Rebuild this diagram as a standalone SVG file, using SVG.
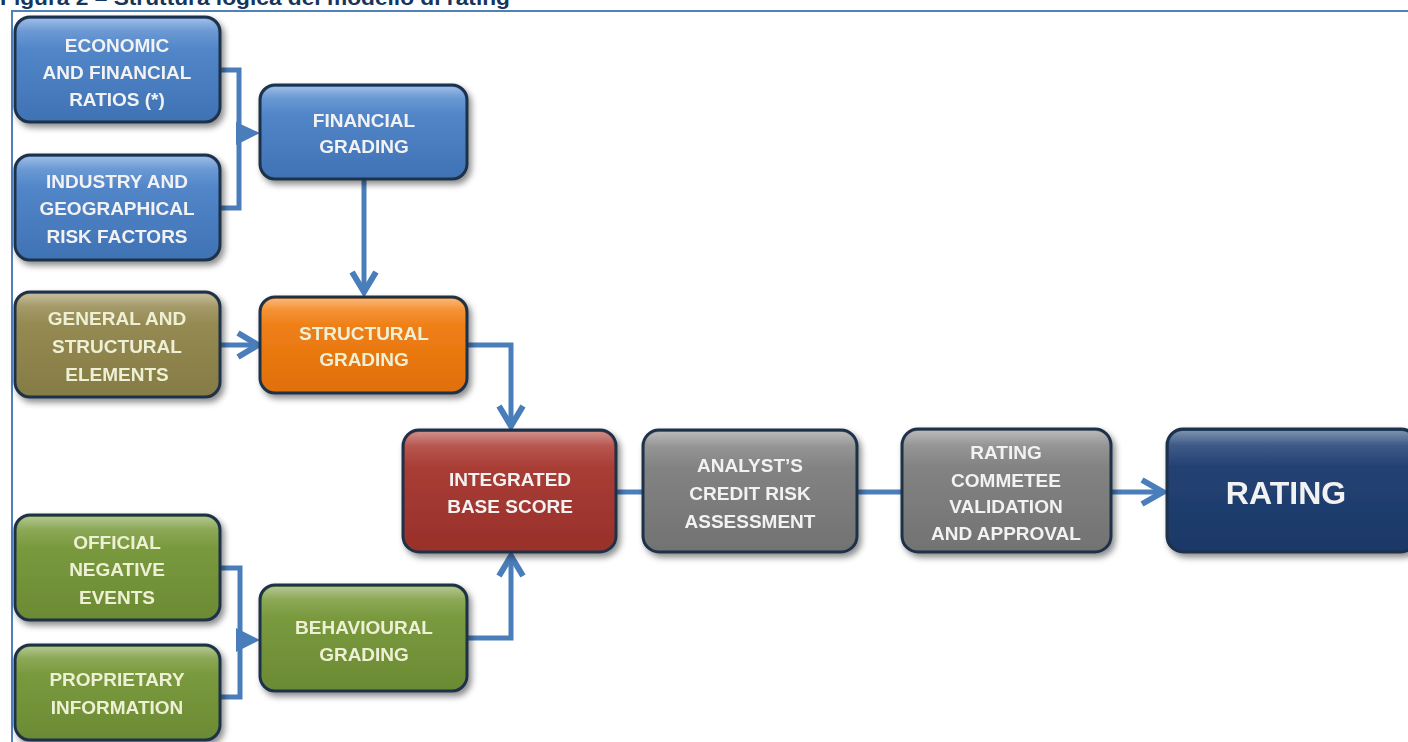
<svg xmlns="http://www.w3.org/2000/svg" width="1408" height="742" viewBox="0 0 1408 742">
<defs>
<style>
.t{font-family:"Liberation Sans",Arial,sans-serif;font-weight:bold;font-size:19px;text-anchor:middle;fill:#f2f2f2}
.tg{fill:#eef0d6}
.box{stroke:#1e3048;stroke-width:3}
.hl{fill:url(#hl)}
.c{fill:none;stroke:#4a7ebb;stroke-width:5;stroke-linejoin:miter}
.ah{fill:none;stroke:#4a7ebb;stroke-width:6;stroke-linecap:butt;stroke-linejoin:miter}
.tri{fill:#4a7ebb}
</style>
<filter id="sh" x="-10%" y="-10%" width="125%" height="130%">
<feDropShadow dx="3" dy="4" stdDeviation="3" flood-color="#000" flood-opacity="0.45"/>
</filter>
<linearGradient id="hl" x1="0" y1="0" x2="0" y2="1">
<stop offset="0" stop-color="#fff" stop-opacity="0.4"/>
<stop offset="0.12" stop-color="#fff" stop-opacity="0.12"/>
<stop offset="0.3" stop-color="#fff" stop-opacity="0"/>
</linearGradient>
<linearGradient id="gBlue" x1="0" y1="0" x2="0" y2="1"><stop offset="0" stop-color="#5a8fd2"/><stop offset="1" stop-color="#3f72b4"/></linearGradient>
<linearGradient id="gOlive" x1="0" y1="0" x2="0" y2="1"><stop offset="0" stop-color="#9c9058"/><stop offset="1" stop-color="#857b45"/></linearGradient>
<linearGradient id="gOrange" x1="0" y1="0" x2="0" y2="1"><stop offset="0" stop-color="#f5861c"/><stop offset="1" stop-color="#e06e08"/></linearGradient>
<linearGradient id="gRed" x1="0" y1="0" x2="0" y2="1"><stop offset="0" stop-color="#b0423a"/><stop offset="1" stop-color="#98302a"/></linearGradient>
<linearGradient id="gGray" x1="0" y1="0" x2="0" y2="1"><stop offset="0" stop-color="#8a8a8a"/><stop offset="1" stop-color="#727272"/></linearGradient>
<linearGradient id="gNavy" x1="0" y1="0" x2="0" y2="1"><stop offset="0" stop-color="#254679"/><stop offset="1" stop-color="#1b3866"/></linearGradient>
<linearGradient id="gGreen" x1="0" y1="0" x2="0" y2="1"><stop offset="0" stop-color="#80a043"/><stop offset="1" stop-color="#6b8a33"/></linearGradient>
</defs>
<rect width="1408" height="742" fill="#ffffff"/>
<text x="0" y="5" font-family="'Liberation Sans',Arial,sans-serif" font-weight="bold" font-size="21" fill="#17365d" textLength="510" lengthAdjust="spacingAndGlyphs">Figura 2 – Struttura logica del modello di rating</text>
<rect x="12" y="11" width="1420" height="760" fill="none" stroke="#4f81bd" stroke-width="2"/>

<g id="connectors">
<polyline class="c" points="220,70 239,70 239,208 220,208"/>
<polygon class="tri" points="236,122 260,133 236,145"/>
<polyline class="c" points="364,180 364,292"/>
<polyline class="ah" points="352,272 364,292 376,272"/>
<polyline class="c" points="220,345 256,345"/>
<polyline class="ah" points="238,333 258,345 238,357"/>
<polyline class="c" points="467,345 511,345 511,426"/>
<polyline class="ah" points="499,406 511,426 523,406"/>
<polyline class="c" points="467,638 511,638 511,556"/>
<polyline class="ah" points="499,576 511,556 523,576"/>
<polyline class="c" points="615,492 645,492"/>
<polyline class="c" points="857,492 902,492"/>
<polyline class="c" points="1110,492 1162,492"/>
<polyline class="ah" points="1142,480 1163,492 1142,504"/>
<polyline class="c" points="220,568 240,568 240,697 220,697"/>
<polygon class="tri" points="236,628 260,640 236,652"/>
</g>

<g id="n-econ" filter="url(#sh)">
<rect class="box" x="15" y="17" width="205" height="105" rx="15" fill="url(#gBlue)"/>
<rect class="hl" x="17" y="19" width="201" height="101" rx="13"/>
<text class="t" x="117" y="52">ECONOMIC</text>
<text class="t" x="117" y="79">AND FINANCIAL</text>
<text class="t" x="117" y="106">RATIOS (*)</text>
</g>
<g id="n-industry" filter="url(#sh)">
<rect class="box" x="15" y="155" width="205" height="105" rx="15" fill="url(#gBlue)"/>
<rect class="hl" x="17" y="157" width="201" height="101" rx="13"/>
<text class="t" x="117" y="188">INDUSTRY AND</text>
<text class="t" x="117" y="215">GEOGRAPHICAL</text>
<text class="t" x="117" y="243">RISK FACTORS</text>
</g>
<g id="n-fin" filter="url(#sh)">
<rect class="box" x="260" y="85" width="207" height="94" rx="15" fill="url(#gBlue)"/>
<rect class="hl" x="262" y="87" width="203" height="90" rx="13"/>
<text class="t" x="364" y="127">FINANCIAL</text>
<text class="t" x="364" y="153">GRADING</text>
</g>
<g id="n-general" filter="url(#sh)">
<rect class="box" x="15" y="292" width="205" height="105" rx="15" fill="url(#gOlive)"/>
<rect class="hl" x="17" y="294" width="201" height="101" rx="13"/>
<text class="t tg" x="117" y="325">GENERAL AND</text>
<text class="t tg" x="117" y="353">STRUCTURAL</text>
<text class="t tg" x="117" y="381">ELEMENTS</text>
</g>
<g id="n-struct" filter="url(#sh)">
<rect class="box" x="260" y="297" width="207" height="96" rx="15" fill="url(#gOrange)"/>
<rect class="hl" x="262" y="299" width="203" height="92" rx="13"/>
<text class="t tg" x="364" y="340">STRUCTURAL</text>
<text class="t tg" x="364" y="366">GRADING</text>
</g>
<g id="n-integrated" filter="url(#sh)">
<rect class="box" x="403" y="430" width="213" height="122" rx="16" fill="url(#gRed)"/>
<rect class="hl" x="405" y="432" width="209" height="118" rx="14"/>
<text class="t" x="510" y="486">INTEGRATED</text>
<text class="t" x="510" y="513">BASE SCORE</text>
</g>
<g id="n-analyst" filter="url(#sh)">
<rect class="box" x="643" y="430" width="214" height="122" rx="16" fill="url(#gGray)"/>
<rect class="hl" x="645" y="432" width="210" height="118" rx="14"/>
<text class="t" x="750" y="472">ANALYST’S</text>
<text class="t" x="750" y="500">CREDIT RISK</text>
<text class="t" x="750" y="528">ASSESSMENT</text>
</g>
<g id="n-committee" filter="url(#sh)">
<rect class="box" x="902" y="429" width="209" height="123" rx="16" fill="url(#gGray)"/>
<rect class="hl" x="904" y="431" width="205" height="119" rx="14"/>
<text class="t" x="1006" y="459">RATING</text>
<text class="t" x="1006" y="487">COMMETEE</text>
<text class="t" x="1006" y="513">VALIDATION</text>
<text class="t" x="1006" y="540">AND APPROVAL</text>
</g>
<g id="n-rating" filter="url(#sh)">
<rect class="box" x="1167" y="429" width="250" height="123" rx="16" fill="url(#gNavy)"/>
<rect class="hl" x="1169" y="431" width="246" height="119" rx="14"/>
<text class="t" x="1286" y="504" style="font-size:32px">RATING</text>
</g>
<g id="n-official" filter="url(#sh)">
<rect class="box" x="15" y="515" width="205" height="105" rx="15" fill="url(#gGreen)"/>
<rect class="hl" x="17" y="517" width="201" height="101" rx="13"/>
<text class="t tg" x="117" y="549">OFFICIAL</text>
<text class="t tg" x="117" y="576">NEGATIVE</text>
<text class="t tg" x="117" y="604">EVENTS</text>
</g>
<g id="n-proprietary" filter="url(#sh)">
<rect class="box" x="15" y="645" width="205" height="95" rx="15" fill="url(#gGreen)"/>
<rect class="hl" x="17" y="647" width="201" height="91" rx="13"/>
<text class="t tg" x="117" y="686">PROPRIETARY</text>
<text class="t tg" x="117" y="714">INFORMATION</text>
</g>
<g id="n-behav" filter="url(#sh)">
<rect class="box" x="260" y="585" width="207" height="106" rx="15" fill="url(#gGreen)"/>
<rect class="hl" x="262" y="587" width="203" height="102" rx="13"/>
<text class="t tg" x="364" y="634">BEHAVIOURAL</text>
<text class="t tg" x="364" y="661">GRADING</text>
</g>
</svg>
